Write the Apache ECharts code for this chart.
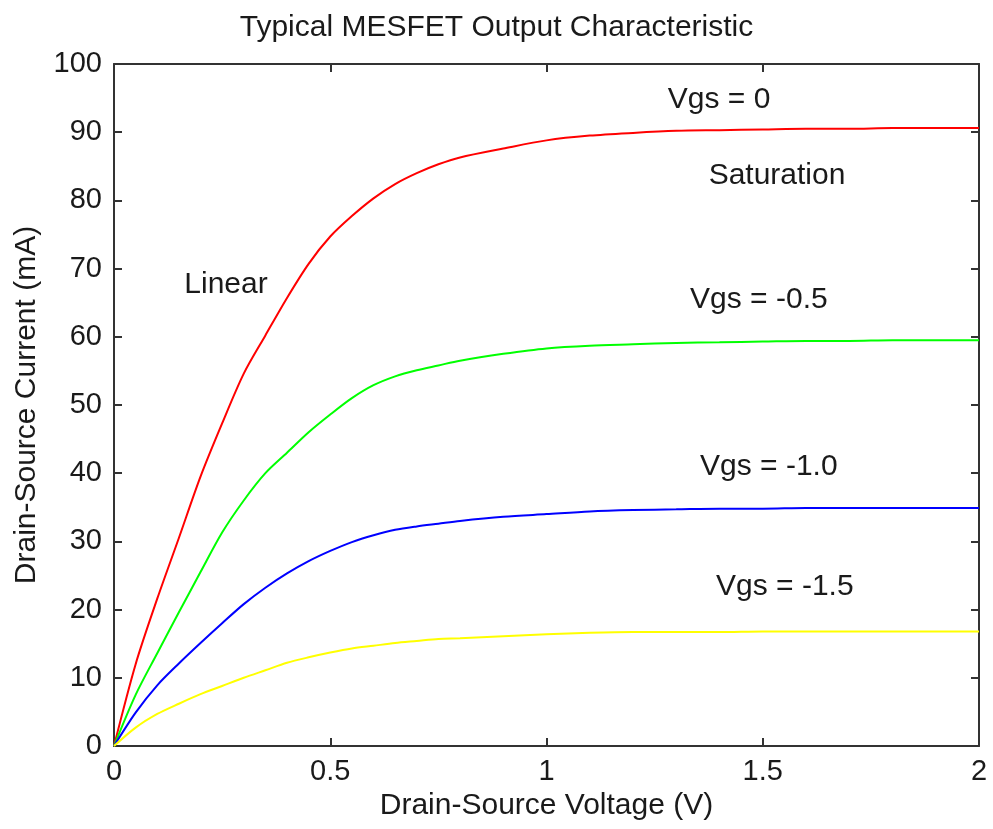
<!DOCTYPE html>
<html>
<head>
    <meta charset="utf-8">
    <title>Typical MESFET Output Characteristic</title>
    <script src="https://cdn.jsdelivr.net/npm/echarts@6/dist/echarts.min.js"></script>
    <style>
        html, body { margin: 0; padding: 0; background: #fff; }
        #chart1 { width: 993px; height: 829px; }
    </style>
</head>
<body>
<div id="chart1"></div>
<script type="text/javascript">
    // drain-source voltage (V)
    var vds = [0, 0.05, 0.1, 0.15, 0.2, 0.25, 0.3, 0.35, 0.4, 0.45, 0.5, 0.55, 0.6, 0.65, 0.7, 0.75, 0.8,
        0.9, 1.0, 1.1, 1.2, 1.3, 1.4, 1.5, 1.6, 1.7, 1.8, 1.9, 2.0];
    // drain current (mA) for each gate voltage
    var idVgs0 = [0, 12, 21.6, 30.5, 39.5, 47.3, 54.6, 60.2, 65.7, 70.7, 74.7, 77.7, 80.3, 82.4, 84.0, 85.3, 86.3,
        87.6, 88.8, 89.5, 89.9, 90.2, 90.3, 90.4, 90.5, 90.5, 90.6, 90.6, 90.6];
    var idVgs05 = [0, 7.5, 13.6, 19.6, 25.5, 31.3, 36.0, 40.0, 43.0, 46.0, 48.6, 51.0, 52.9, 54.2, 55.1, 55.8, 56.5,
        57.5, 58.3, 58.7, 58.9, 59.1, 59.2, 59.3, 59.4, 59.4, 59.5, 59.5, 59.5];
    var idVgs10 = [0, 4.9, 8.9, 12.1, 15.1, 18.0, 20.8, 23.2, 25.3, 27.1, 28.6, 29.9, 30.9, 31.7, 32.2, 32.6, 33.0,
        33.6, 34.0, 34.4, 34.6, 34.7, 34.8, 34.8, 34.9, 34.9, 34.9, 34.9, 34.9];
    var idVgs15 = [0, 2.7, 4.7, 6.2, 7.6, 8.8, 10.0, 11.1, 12.2, 13.0, 13.7, 14.3, 14.7, 15.1, 15.4, 15.7, 15.8,
        16.1, 16.4, 16.6, 16.7, 16.7, 16.7, 16.8, 16.8, 16.8, 16.8, 16.8, 16.8];

    // text labels inside the plot
    var annoText = ['Linear', 'Vgs = 0', 'Saturation', 'Vgs = -0.5', 'Vgs = -1.0', 'Vgs = -1.5'];
    var annoX = [0.259, 1.399, 1.533, 1.491, 1.514, 1.551];
    var annoY = [67.6, 94.7, 83.6, 65.4, 40.9, 23.3];

    var lineColors = ['#ff0000', '#00ff00', '#0000ff', '#ffff00'];
    var txt = '#1a1a1a';
    var font = 'Liberation Sans, Arial, Helvetica, sans-serif';

    function pairs(ys) {
        return vds.map(function (x, i) { return [x, ys[i]]; });
    }

    var annoData = annoText.map(function (t, i) { return { value: [annoX[i], annoY[i]], name: t }; });

    function lineSeries(ys, color) {
        return {
            type: 'line',
            data: pairs(ys),
            showSymbol: false,
            smooth: 0.3,
            silent: true,
            lineStyle: { color: color, width: 2 }
        };
    }

    var axisLine = { show: true, onZero: false, lineStyle: { color: '#333', width: 2 } };
    var tick = { inside: true, length: 8, lineStyle: { color: '#333', width: 2 } };
    var myChart1 = echarts.init(document.getElementById('chart1'));
    myChart1.setOption({
        backgroundColor: '#fff',
        animation: false,
        title: {
            text: 'Typical MESFET Output Characteristic',
            left: 'center',
            top: 8,
            textStyle: { fontFamily: font, fontSize: 30, fontWeight: 'normal', color: txt }
        },
        grid: { left: 114, right: 14, top: 64, bottom: 83 },
        xAxis: [{
            type: 'value', min: 0, max: 2, interval: 0.5,
            name: 'Drain-Source Voltage (V)', nameLocation: 'middle', nameGap: 39,
            nameTextStyle: { fontFamily: font, fontSize: 30, color: txt },
            axisLine: axisLine,
            axisTick: tick,
            axisLabel: { fontFamily: font, fontSize: 29, color: txt, margin: 11,
                formatter: function (v) { return String(v); } },
            splitLine: { show: false }
        }, {
            type: 'value', min: 0, max: 2, interval: 0.5, position: 'top',
            axisLine: axisLine,
            axisTick: tick,
            axisLabel: { show: false },
            splitLine: { show: false }
        }],
        yAxis: [{
            type: 'value', min: 0, max: 100, interval: 10,
            name: 'Drain-Source Current (mA)', nameLocation: 'middle', nameGap: 72,
            nameTextStyle: { fontFamily: font, fontSize: 30, color: txt },
            axisLine: axisLine,
            axisTick: tick,
            axisLabel: { fontFamily: font, fontSize: 29, color: txt, margin: 12 },
            splitLine: { show: false }
        }, {
            type: 'value', min: 0, max: 100, interval: 10, position: 'right',
            axisLine: axisLine,
            axisTick: tick,
            axisLabel: { show: false },
            splitLine: { show: false }
        }],
        series: [
            lineSeries(idVgs0, lineColors[0]),
            lineSeries(idVgs05, lineColors[1]),
            lineSeries(idVgs10, lineColors[2]),
            lineSeries(idVgs15, lineColors[3]),
            {
                type: 'scatter',
                data: annoData,
                symbolSize: 0,
                silent: true,
                itemStyle: { opacity: 1, color: 'rgba(0,0,0,0)' },
                label: {
                    show: true, position: 'inside', opacity: 1,
                    formatter: function (p) { return p.name; },
                    fontFamily: font, fontSize: 30, color: txt
                }
            }
        ]
    });
</script>
</body>
</html>
